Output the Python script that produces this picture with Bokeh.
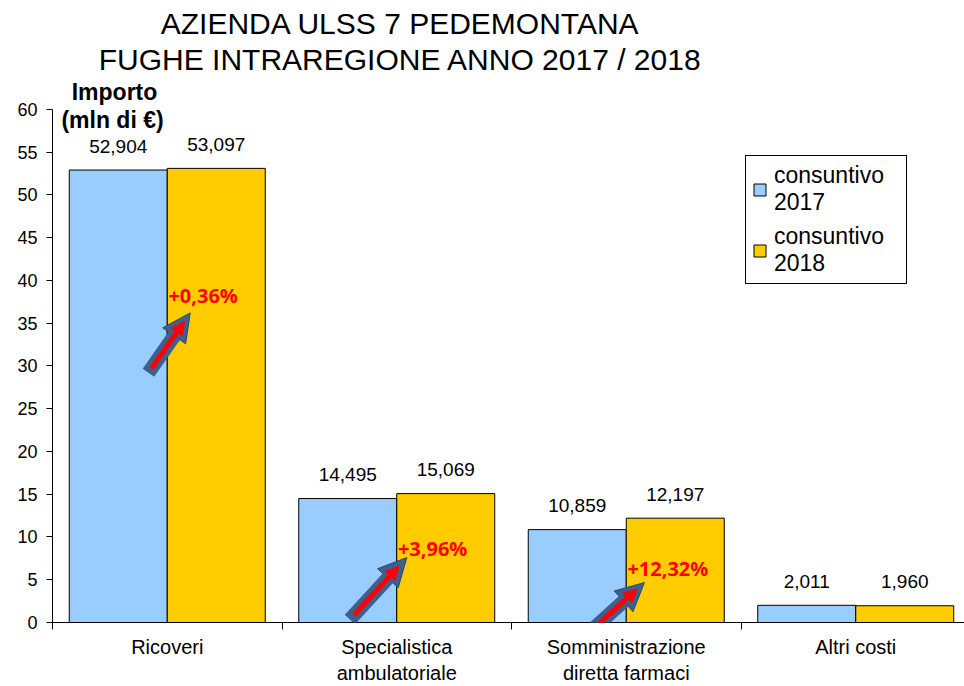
from bokeh.plotting import figure
from bokeh.models import (ColumnDataSource, FixedTicker, Legend, LegendItem, Label,
                          Arrow, NormalHead, Range1d)
from bokeh.embed import file_html
from bokeh.resources import INLINE
from bokeh.core.properties import value

# ---------------- data ----------------
categories = ["Ricoveri", "Specialistica\nambulatoriale",
              "Somministrazione\ndiretta farmaci", "Altri costi"]
values_2017 = [52.904, 14.495, 10.859, 2.011]
values_2018 = [53.097, 15.069, 12.197, 1.960]
series_names = ["consuntivo\n2017", "consuntivo\n2018"]
y_ticks = [0, 5, 10, 15, 20, 25, 30, 35, 40, 45, 50, 55, 60]
percent_labels = ["+0,36%", "+3,96%", "+12,32%"]
title_lines = ["AZIENDA ULSS 7 PEDEMONTANA", "FUGHE INTRAREGIONE ANNO 2017 / 2018"]
y_title_lines = ["Importo", "(mln di €)"]

# annotation positions (data units)
arrow_tail_x = [0.418, 1.296, 2.353]
arrow_tail_y = [29.2, 0.35, -0.82]
arrow_tip_x = [0.600, 1.544, 2.579]
arrow_tip_y = [36.2, 7.59, 4.67]
pct_x = [0.505, 1.505, 2.505]
pct_y = [38.2, 8.6, 6.3]

# ---------------- styles ----------------
FONT = "Liberation Sans"
C17 = "#99CCFF"
C18 = "#FFCC00"
BAR_W = 0.427
W, H = 964, 686
BL, BR, BT, BB = 52, 0, 0, 63
CAT_PX = 229.5
PX_PER_UNIT = 514 / 60.0
x_end = (W - BL - BR) / CAT_PX
y_end = (H - BT - BB) / PX_PER_UNIT

p = figure(width=W, height=H, output_backend="svg", toolbar_location=None,
           x_range=Range1d(0, x_end), y_range=Range1d(0, y_end),
           min_border_left=BL, min_border_right=BR, min_border_top=BT,
           min_border_bottom=BB)
p.outline_line_color = None
p.xgrid.visible = False
p.ygrid.visible = False
p.background_fill_color = "white"
p.border_fill_color = "white"

centers = [i + 0.5 for i in range(len(categories))]
src = ColumnDataSource(dict(
    x17=[c - BAR_W / 2 for c in centers],
    x18=[c + BAR_W / 2 for c in centers],
    v17=values_2017, v18=values_2018,
    t17=[f"{v:.3f}".replace(".", ",") for v in values_2017],
    t18=[f"{v:.3f}".replace(".", ",") for v in values_2018],
))

r17 = p.vbar(x="x17", top="v17", width=BAR_W, source=src, fill_color=C17,
             line_color="black", line_width=1)
r18 = p.vbar(x="x18", top="v18", width=BAR_W, source=src, fill_color=C18,
             line_color="black", line_width=1)

for xc, vc, tc in (("x17", "v17", "t17"), ("x18", "v18", "t18")):
    p.text(x=xc, y=vc, text=tc, source=src,
           text_align="center", text_baseline="middle", y_offset=-24,
           text_font=value(FONT), text_font_size="19px", text_color="black")

# axes
p.yaxis.ticker = FixedTicker(ticks=y_ticks)
p.yaxis.bounds = (0, 60)
p.yaxis.major_tick_out = 6
p.yaxis.major_tick_in = 0
p.yaxis.minor_tick_out = 0
p.yaxis.minor_tick_in = 0
p.yaxis.major_label_standoff = 9
p.yaxis.major_label_text_font = FONT
p.yaxis.major_label_text_font_size = "18px"
p.yaxis.major_label_text_color = "black"
p.yaxis.axis_line_color = "black"
p.yaxis.major_tick_line_color = "black"

p.xaxis.ticker = FixedTicker(ticks=centers, minor_ticks=[0, 1, 2, 3, 4])
p.xaxis.major_label_overrides = {c: lab for c, lab in zip(centers, categories)}
p.xaxis.major_tick_out = 0
p.xaxis.major_tick_in = 0
p.xaxis.minor_tick_out = 7
p.xaxis.minor_tick_in = 0
p.xaxis.minor_tick_line_color = "black"
p.xaxis.major_label_standoff = 6
p.xaxis.major_label_text_font = FONT
p.xaxis.major_label_text_font_size = "20px"
p.xaxis.major_label_text_color = "black"
p.xaxis.axis_line_color = "black"

# arrows
for tx, ty, hx, hy in zip(arrow_tail_x, arrow_tail_y, arrow_tip_x, arrow_tip_y):
    p.add_layout(Arrow(x_start=tx, y_start=ty, x_end=hx, y_end=hy,
                       line_color="#3F5F8F", line_width=14,
                       end=NormalHead(size=28, fill_color="#3F5F8F",
                                      line_color="#2E4770", line_width=1)))
    dx, dy = hx - tx, hy - ty
    p.add_layout(Arrow(x_start=tx + 0.07 * dx, y_start=ty + 0.07 * dy,
                       x_end=tx + 0.86 * dx, y_end=ty + 0.86 * dy,
                       line_color="#FF0000", line_width=5,
                       end=NormalHead(size=13, fill_color="#FF0000",
                                      line_color="#FF0000", line_width=1)))

for x, y, t in zip(pct_x, pct_y, percent_labels):
    p.add_layout(Label(x=x, y=y, text=t, text_align="left", text_baseline="middle",
                       text_font="Open Sans", text_font_style="bold",
                       text_font_size="20px", text_color="#FF0000"))

# titles (screen units relative to frame)
for yy, t in zip([599, 563], title_lines):
    p.add_layout(Label(x=348, y=yy, x_units="screen", y_units="screen", text=t,
                       text_align="center", text_baseline="middle",
                       text_font=FONT, text_font_size="30px", text_color="black"))
for yy, xx, t in zip([531, 503], [62, 60], y_title_lines):
    p.add_layout(Label(x=xx, y=yy, x_units="screen", y_units="screen", text=t,
                       text_align="center", text_baseline="middle",
                       text_font=FONT, text_font_style="bold",
                       text_font_size="23px", text_color="black"))

legend = Legend(items=[LegendItem(label=series_names[0], renderers=[r17]),
                       LegendItem(label=series_names[1], renderers=[r18])],
                location=(693, 338), border_line_color="black", border_line_width=1,
                border_line_alpha=1, background_fill_alpha=1,
                label_text_font=FONT, label_text_font_size="23px",
                label_text_color="black", glyph_width=15, glyph_height=15,
                label_standoff=7, label_width=126, spacing=7, padding=6, margin=0)
p.add_layout(legend)

open("out.html", "w").write(file_html(p, INLINE))
